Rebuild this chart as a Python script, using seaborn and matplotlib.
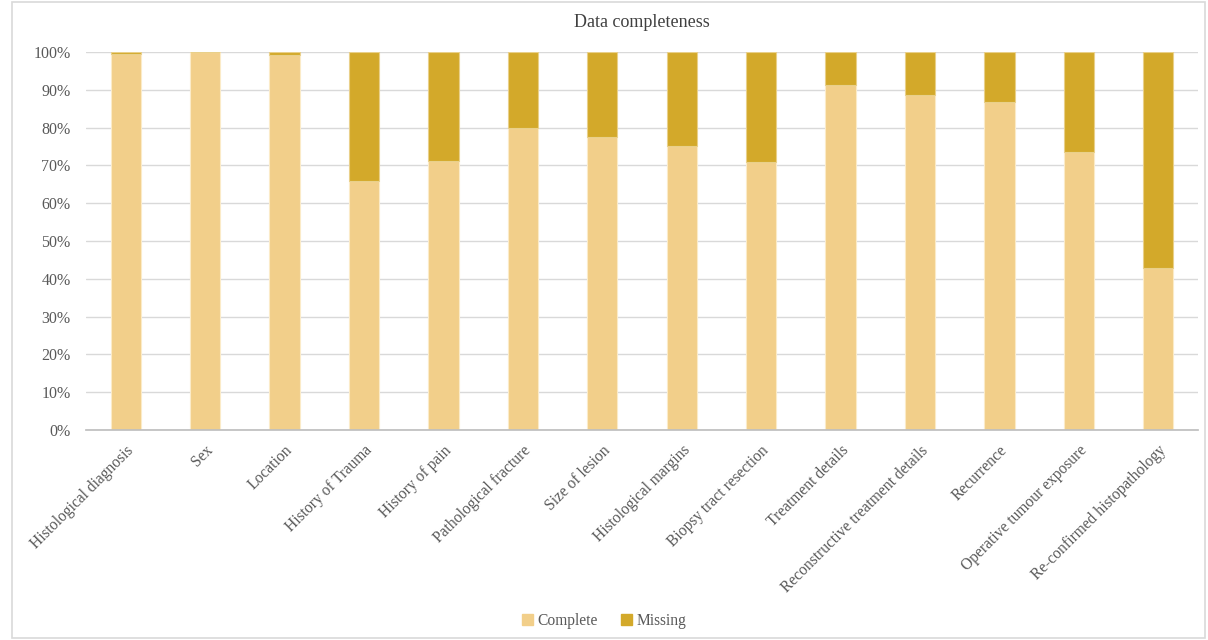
import matplotlib
matplotlib.use("Agg")
import matplotlib.pyplot as plt
import seaborn as sns
import pandas as pd
from matplotlib.patches import Patch, Rectangle
from matplotlib.ticker import FuncFormatter

categories = ["Histological diagnosis", "Sex", "Location", "History of Trauma",
              "History of pain", "Pathological fracture", "Size of lesion",
              "Histological margins", "Biopsy tract resection", "Treatment details",
              "Reconstructive treatment details", "Recurrence",
              "Operative tumour exposure", "Re-confirmed histopathology"]
complete = [99.6, 100.0, 99.2, 65.9, 71.2, 79.8, 77.6, 75.2, 70.9, 91.3, 88.5, 86.7, 73.5, 42.8]
missing = [100.0 - c for c in complete]
yticks = [0, 10, 20, 30, 40, 50, 60, 70, 80, 90, 100]

c_complete = "#F2CF8A"
c_missing = "#D3A92A"

sns.set_theme(style="white")
plt.rcParams["font.family"] = ["Liberation Serif", "DejaVu Serif"]

df = pd.DataFrame({"cat": categories, "complete": complete, "missing": missing})

fig = plt.figure(figsize=(12.08, 6.4), dpi=100)
fig.patches.append(Rectangle((12 / 1208, 2 / 640), 1193 / 1208, 636 / 640,
                             transform=fig.transFigure, fill=False,
                             edgecolor="#d9d9d9", linewidth=1.2))
ax = fig.add_axes([86 / 1208, 1 - 430 / 640, 1112 / 1208, 378 / 640])

sns.barplot(data=df, x="cat", y="complete", color=c_complete, width=0.38,
            saturation=1, ax=ax, order=categories,
            edgecolor="#FBEBC8", linewidth=0.8)
sns.barplot(data=df, x="cat", y="missing", color=c_missing, width=0.38,
            saturation=1, ax=ax, order=categories, bottom=df["complete"],
            edgecolor="#E9D08A", linewidth=0.8)

ax.set_ylim(0, 100)
ax.set_yticks(yticks)
ax.yaxis.set_major_formatter(FuncFormatter(lambda v, p: f"{int(v)}%"))
ax.set_xlim(-0.5, len(categories) - 0.5)
ax.grid(axis="y", color="#d9d9d9", linewidth=1)
ax.set_axisbelow(True)
for s in ["top", "right", "left"]:
    ax.spines[s].set_visible(False)
ax.spines["bottom"].set_color("#bfbfbf")
ax.set_xlabel("")
ax.set_ylabel("")
ax.tick_params(axis="y", length=0, labelsize=11.5, colors="#595959", pad=11)
ax.tick_params(axis="x", length=0, labelsize=11.2, colors="#595959", pad=9)
plt.setp(ax.get_xticklabels(), rotation=45, ha="right", rotation_mode="anchor")
ax.set_title("Data completeness", fontsize=13, color="#404040", pad=18)

handles = [Patch(color=c_complete, label="Complete"), Patch(color=c_missing, label="Missing")]
fig.legend(handles=handles, loc="center", bbox_to_anchor=(0.5, 1 - 621 / 640), ncol=2,
           frameon=False, fontsize=11.2, handlelength=0.7, handleheight=0.7,
           handletextpad=0.3, columnspacing=1.5, labelcolor="#595959")

fig.savefig("out.png", dpi=100)
